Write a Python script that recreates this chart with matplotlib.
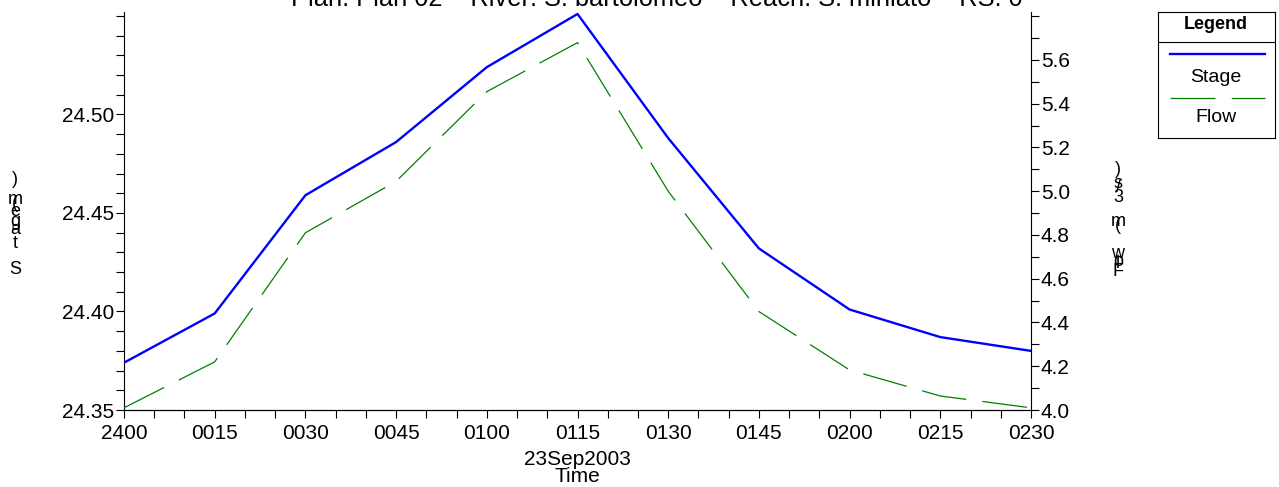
import matplotlib
matplotlib.use("Agg")
import matplotlib.pyplot as plt
from matplotlib.ticker import MultipleLocator

plt.rcParams['font.family'] = ['Liberation Sans', 'DejaVu Sans']

# data (minutes after 2400 on 23Sep2003)
minutes = [0, 15, 30, 45, 60, 75, 90, 105, 120, 135, 150]
timeLabels = ["2400", "0015", "0030", "0045", "0100", "0115", "0130", "0145", "0200", "0215", "0230"]
stage = [24.374, 24.399, 24.459, 24.486, 24.524, 24.551, 24.488, 24.432, 24.401, 24.387, 24.380]
flow = [4.01, 4.22, 4.81, 5.045, 5.455, 5.679, 5.00, 4.45, 4.183, 4.064, 4.01]

W, H = 1279, 487
title = "Plan: Plan 02    River: S. bartolomeo    Reach: S. miniato    RS: 0"

fig = plt.figure(figsize=(W / 100, H / 100), dpi=100)
ax = fig.add_axes([124 / W, 1 - 410 / H, (1031 - 124) / W, (410 - 12) / H])
ax2 = ax.twinx()

ax.plot(minutes, stage, color="#0000ff", lw=1.7, zorder=3)
ax2.plot(minutes, flow, color="#008000", lw=0.9, linestyle=(0, (36, 13)))

ax.set_xlim(0, 150)
ax.set_ylim(24.35, 24.552)
ax2.set_ylim(4.0, 5.819)

ax.set_xticks(minutes)
ax.set_xticklabels(timeLabels)
ax.xaxis.set_minor_locator(MultipleLocator(5))
ax.set_yticks([24.35, 24.40, 24.45, 24.50])
ax.set_yticklabels(["24.35", "24.40", "24.45", "24.50"])
ax.yaxis.set_minor_locator(MultipleLocator(0.01))
ax2.set_yticks([4.0, 4.2, 4.4, 4.6, 4.8, 5.0, 5.2, 5.4, 5.6])
ax2.set_yticklabels(["4.0", "4.2", "4.4", "4.6", "4.8", "5.0", "5.2", "5.4", "5.6"])
ax2.yaxis.set_minor_locator(MultipleLocator(0.1))

for a in (ax, ax2):
    a.spines["top"].set_visible(False)
    a.tick_params(which="both", direction="out", length=6, width=0.8, labelsize=15, pad=1)
ax.tick_params(axis="x", which="major", pad=4)
ax2.spines["left"].set_visible(False)
ax.spines["right"].set_visible(False)

ax.set_xlabel("23Sep2003\nTime", fontsize=15, linespacing=0.9, labelpad=5)

fig.text(657 / W, 1 - 6 / H, title, ha="center", va="baseline", fontsize=18.3)

# axis titles drawn as stacked upright characters, like the reference
def stackedLabel(items, xPx):
    for ch, yPx in items:
        fig.text(xPx / W, 1 - yPx / H, ch, ha="center", va="center", fontsize=13)

stackedLabel([("S", 270), ("t", 243), ("a", 229), ("g", 221), ("e", 211),
              ("(", 203), ("m", 199), (")", 180)], 15)
stackedLabel([("F", 271), ("l", 263), ("o", 261), ("w", 254), ("(", 226),
              ("m", 222), ("3", 197), ("/", 188), ("s", 184), (")", 170)], 1118)

# legend box
lax = fig.add_axes([1158 / W, 1 - 138 / H, 117 / W, 126 / H])
lax.set_xlim(1158, 1275)
lax.set_ylim(138, 12)
lax.set_xticks([])
lax.set_yticks([])
for s in lax.spines.values():
    s.set_linewidth(0.8)
lax.text(1216, 25, "Legend", ha="center", va="center", fontsize=13, fontweight="bold")
lax.axhline(42, color="black", lw=0.8)
lax.plot([1170, 1265], [54, 54], color="#0000ff", lw=1.7)
lax.text(1216, 77, "Stage", ha="center", va="center", fontsize=14)
lax.plot([1170, 1265], [98, 98], color="#008000", lw=0.9, linestyle=(0, (36, 13)))
lax.text(1216, 118, "Flow", ha="center", va="center", fontsize=14)

fig.savefig("out.png", dpi=100)
